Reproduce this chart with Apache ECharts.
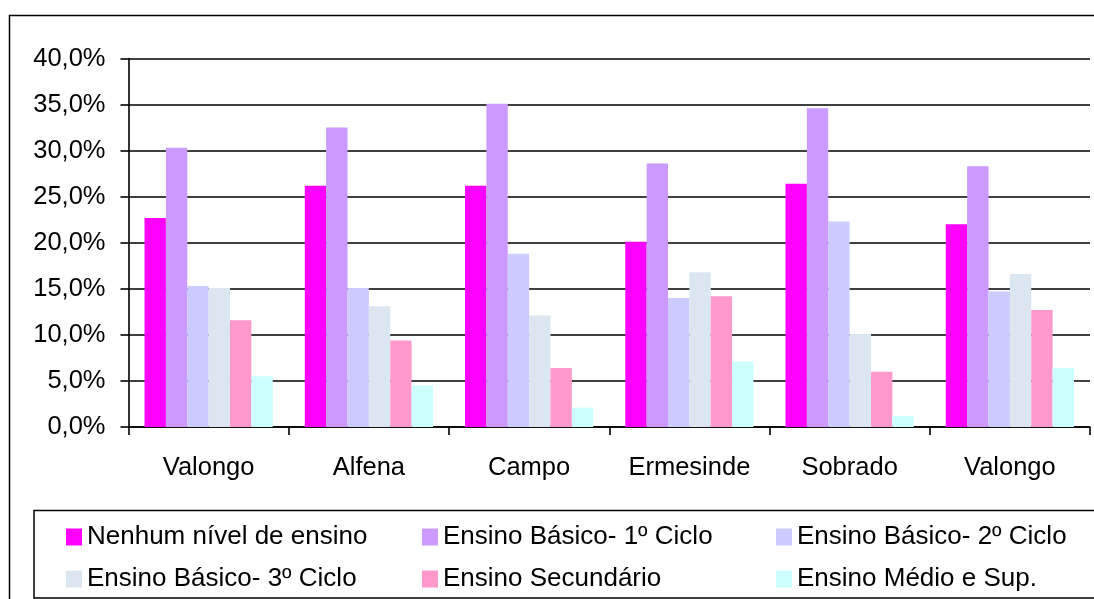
<!DOCTYPE html>
<html>
<head>
<meta charset="utf-8">
<script src="https://cdn.jsdelivr.net/npm/echarts@6/dist/echarts.min.js"></script>
<style>
html,body{margin:0;padding:0;background:#fff;}
#c{width:1094px;height:599px;}
</style>
</head>
<body>
<div id="c"></div>
<script>
const categories = ['Valongo', 'Alfena', 'Campo', 'Ermesinde', 'Sobrado', 'Valongo'];
const seriesNames = ['Nenhum nível de ensino', 'Ensino Básico- 1º Ciclo', 'Ensino Básico- 2º Ciclo',
                     'Ensino Básico- 3º Ciclo', 'Ensino Secundário', 'Ensino Médio e Sup.'];
const nenhum    = [22.7, 26.2, 26.2, 20.1, 26.4, 22.0];
const basico1   = [30.3, 32.5, 35.1, 28.6, 34.6, 28.3];
const basico2   = [15.3, 15.1, 18.8, 14.0, 22.3, 14.7];
const basico3   = [15.1, 13.1, 12.1, 16.8, 10.1, 16.6];
const secundario= [11.6,  9.4,  6.4, 14.2,  6.0, 12.7];
const medioSup  = [ 5.5,  4.5,  2.1,  7.1,  1.2,  6.4];
const yTicks = [0, 5, 10, 15, 20, 25, 30, 35, 40];

const colors = ['#FF00FF', '#CC99FF', '#CCCCFF', '#DCE6F0', '#FF99CC', '#CCFFFF'];
const values = [nenhum, basico1, basico2, basico3, secundario, medioSup];
const font = 'Liberation Sans, Arial, sans-serif';

const chart = echarts.init(document.getElementById('c'), null, {renderer: 'canvas'});

function legendCol(left, names) {
  return {
    orient: 'vertical', left: left, top: 524, padding: 0,
    itemWidth: 16, itemHeight: 17, itemGap: 16,
    icon: 'rect',
    textStyle: {fontFamily: font, fontSize: 26, color: '#000', lineHeight: 26},
    data: names
  };
}

chart.setOption({
  animation: false,
  backgroundColor: '#fff',
  color: colors,
  grid: {left: 128.5, right: 4, top: 58.5, bottom: 172, containLabel: false},
  legend: [
    legendCol(66, [seriesNames[0], seriesNames[3]]),
    legendCol(422, [seriesNames[1], seriesNames[4]]),
    legendCol(776, [seriesNames[2], seriesNames[5]])
  ],
  graphic: [
    {type: 'rect', shape: {x: 9.5, y: 15.5, width: 1200, height: 700}, style: {fill: 'none', stroke: '#000', lineWidth: 1.5}, silent: true},
    {type: 'rect', shape: {x: 34, y: 510.5, width: 1200, height: 87.5}, style: {fill: 'none', stroke: '#000', lineWidth: 1.5}, silent: true}
  ],
  xAxis: {
    type: 'category',
    data: categories,
    axisLine: {lineStyle: {color: '#000', width: 1.6}},
    axisTick: {show: true, length: 8, lineStyle: {color: '#000', width: 1.6}},
    axisLabel: {fontFamily: font, fontSize: 25.5, color: '#000', margin: 28},
    splitLine: {show: false}
  },
  yAxis: {
    type: 'value',
    min: yTicks[0], max: yTicks[yTicks.length - 1], interval: yTicks[1] - yTicks[0],
    axisLine: {show: true, lineStyle: {color: '#000', width: 1.6}},
    axisTick: {show: true, length: 8, lineStyle: {color: '#000', width: 1.6}},
    axisLabel: {fontFamily: font, fontSize: 25.5, color: '#000', margin: 23,
      formatter: v => v.toFixed(1).replace('.', ',') + '%'},
    splitLine: {show: true, lineStyle: {color: '#000', width: 1.6}}
  },
  series: seriesNames.map((n, i) => ({
    name: n, type: 'bar', data: values[i],
    barGap: '0%', barCategoryGap: '20%',
    itemStyle: {color: colors[i]}
  }))
});
</script>
</body>
</html>
